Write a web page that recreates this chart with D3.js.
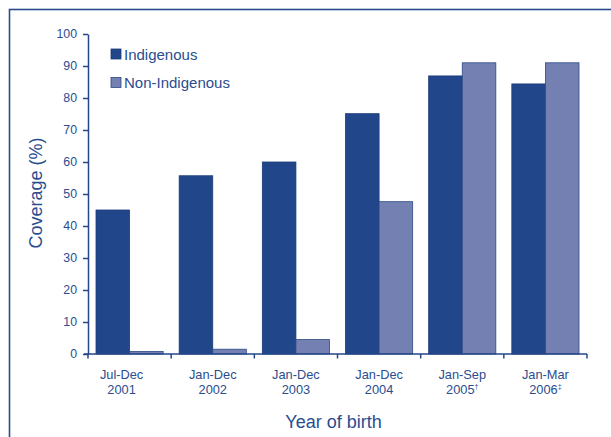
<!DOCTYPE html>
<html>
<head>
<meta charset="utf-8">
<script src="https://cdn.jsdelivr.net/npm/d3@7"></script>
<style>
  html, body { margin: 0; padding: 0; background: #fff; }
  svg { display: block; font-family: "Liberation Sans", Arial, sans-serif; }
</style>
</head>
<body>
<svg id="chart" width="611" height="437"></svg>
<script>
// ---- data ----
const categories = ["Jul-Dec 2001", "Jan-Dec 2002", "Jan-Dec 2003", "Jan-Dec 2004", "Jan-Sep 2005", "Jan-Mar 2006"];
const labelLine1 = ["Jul-Dec", "Jan-Dec", "Jan-Dec", "Jan-Dec", "Jan-Sep", "Jan-Mar"];
const labelLine2 = ["2001", "2002", "2003", "2004", "2005", "2006"];
const labelMarks = ["", "", "", "", "\u2020", "\u2021"];
const seriesNames = ["Indigenous", "Non-Indigenous"];
const indigenous = [45, 55.7, 60, 75.1, 86.9, 84.4];
const nonIndigenous = [0.8, 1.5, 4.5, 47.6, 91, 91];
const yTicks = [0, 10, 20, 30, 40, 50, 60, 70, 80, 90, 100];

// ---- styles ----
const textColor = "#2a4d8f";
const lineColor = "#24468a";
const colors = { "Indigenous": "#22468a", "Non-Indigenous": "#7480b2" };
const strokeColors = { "Indigenous": "#1a3a7a", "Non-Indigenous": "#2c4a86" };

const svg = d3.select("#chart");

// frame
svg.append("rect")
  .attr("x", 9.5).attr("y", 9.5)
  .attr("width", 800).attr("height", 600)
  .attr("fill", "none")
  .attr("stroke", "#2b4c8c")
  .attr("stroke-width", 1.6);

const pLeft = 88, pRight = 587, pTop = 34, pBottom = 354;

const x0 = d3.scaleBand().domain(categories).range([pLeft, pRight]).padding(0);
const x1 = d3.scaleBand().domain(seriesNames).range([8, x0.bandwidth() - 8]).padding(0);
const y = d3.scaleLinear().domain([0, 100]).range([pBottom, pTop]);

const rows = categories.map((c, i) => ({
  cat: c,
  values: [
    { key: "Indigenous", value: indigenous[i] },
    { key: "Non-Indigenous", value: nonIndigenous[i] }
  ]
}));

// bars
const groups = svg.append("g").selectAll("g")
  .data(rows).join("g")
  .attr("transform", d => `translate(${x0(d.cat)},0)`);

groups.selectAll("rect")
  .data(d => d.values).join("rect")
  .attr("x", d => x1(d.key))
  .attr("y", d => y(d.value))
  .attr("width", x1.bandwidth())
  .attr("height", d => y(0) - y(d.value))
  .attr("fill", d => colors[d.key])
  .attr("stroke", d => strokeColors[d.key])
  .attr("stroke-width", 0.8);

// y axis
const yAxis = svg.append("g")
  .attr("transform", `translate(${pLeft},0)`)
  .call(d3.axisLeft(y).tickValues(yTicks).tickSize(5).tickPadding(6).tickSizeOuter(0));
yAxis.select(".domain").attr("stroke", lineColor).attr("stroke-width", 1.5);
yAxis.selectAll(".tick line").attr("stroke", lineColor).attr("stroke-width", 1.5);
yAxis.selectAll(".tick text")
  .attr("fill", textColor)
  .style("font-size", "12.3px")
  .style("font-family", "Liberation Sans, Arial, sans-serif");

// x axis
const xAxisG = svg.append("g");
xAxisG.append("line")
  .attr("x1", pLeft - 4).attr("x2", pRight)
  .attr("y1", pBottom).attr("y2", pBottom)
  .attr("stroke", lineColor).attr("stroke-width", 1.5);
const boundaries = categories.map(c => x0(c)).concat([x0(categories[categories.length - 1]) + x0.bandwidth()]);
xAxisG.selectAll("line.tk")
  .data(boundaries).join("line")
  .attr("class", "tk")
  .attr("x1", d => d).attr("x2", d => d)
  .attr("y1", pBottom).attr("y2", pBottom + 4.5)
  .attr("stroke", lineColor).attr("stroke-width", 1.5);

const xl = xAxisG.selectAll("text.xl")
  .data(categories).join("text")
  .attr("class", "xl")
  .attr("text-anchor", "middle")
  .attr("fill", textColor)
  .style("font-size", "12.8px")
  .attr("transform", (d, i) => `translate(${x0(d) + x0.bandwidth() / 2 + (i === 0 ? -8 : 0)},0)`);
xl.append("tspan").attr("x", 0).attr("y", 378.5).text((d, i) => labelLine1[i]);
const l2 = xl.append("tspan").attr("x", 0).attr("y", 393.5);
l2.append("tspan").text((d, i) => labelLine2[i]);
l2.filter((d, i) => labelMarks[i] !== "")
  .append("tspan")
  .attr("dy", -5)
  .style("font-size", "7px")
  .text(d => labelMarks[categories.indexOf(d)]);

// axis titles
svg.append("text")
  .attr("x", (pLeft + pRight) / 2 - 4)
  .attr("y", 428)
  .attr("text-anchor", "middle")
  .attr("fill", textColor)
  .style("font-size", "18px")
  .text("Year of birth");

svg.append("text")
  .attr("transform", `translate(42,${(pTop + pBottom) / 2 - 1}) rotate(-90)`)
  .attr("text-anchor", "middle")
  .attr("fill", textColor)
  .style("font-size", "18px")
  .text("Coverage (%)");

// legend
const legend = svg.append("g");
const lg = legend.selectAll("g")
  .data(seriesNames).join("g")
  .attr("transform", (d, i) => `translate(111,${49 + i * 28.5})`);
lg.append("rect")
  .attr("width", 10).attr("height", 10)
  .attr("fill", d => colors[d])
  .attr("stroke", d => strokeColors[d])
  .attr("stroke-width", 0.8);
lg.append("text")
  .attr("x", 13).attr("y", 10.5)
  .attr("fill", textColor)
  .style("font-size", "15px")
  .text(d => d);
</script>
</body>
</html>
